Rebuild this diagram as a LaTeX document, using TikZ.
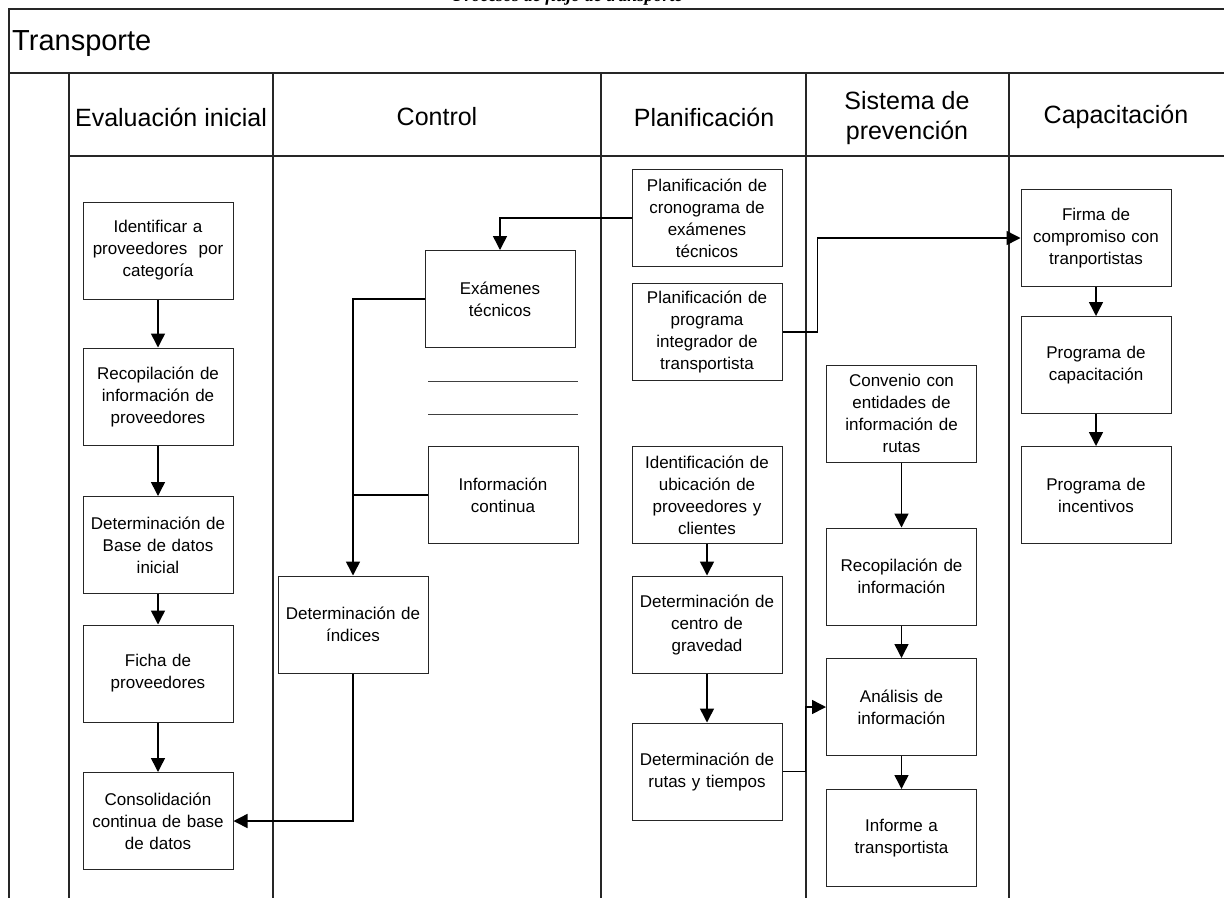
\documentclass[tikz,border=0pt]{standalone}
\usepackage{fontspec}
\setmainfont{Liberation Sans}
\newfontfamily\titlefont{Liberation Serif}
\usetikzlibrary{arrows.meta}

\tikzset{
  lane/.style={line width=1.2pt, draw=black!85},
  thinrule/.style={line width=0.9pt, draw=black!75},
  stepbox/.style={draw=black!85, line width=1pt, fill=white,
    minimum width=150pt, minimum height=97pt, inner sep=2pt,
    text width=146pt, align=center,
    font=\fontsize{17}{22}\selectfont},
  lanehead/.style={font=\fontsize{25}{30}\selectfont, align=center},
  conn/.style={line width=1.5pt, draw=black},
  arr/.style={conn, -{Triangle[length=14pt, width=14pt]}}
}

\begin{document}
\begin{tikzpicture}[x=1pt, y=-1pt]
\useasboundingbox (0,0) rectangle (1224,898);

% caption above the frame, running past the top edge
\node[anchor=base, inner sep=0pt, font=\titlefont\bfseries\itshape\fontsize{18}{20}\selectfont]
  (caption) at (568,1.5) {Procesos de flujo de transporte};

% swimlane frame
\draw[lane] (1224,9) -- (9,9) -- (9,898);
\draw[lane] (9,73) -- (1224,73);
\draw[lane] (69,156) -- (1224,156);
\foreach \x in {69,273,601,806,1009} \draw[lane] (\x,73) -- (\x,898);

\node[anchor=base west, inner sep=0pt, font=\fontsize{29}{34}\selectfont]
  (pool) at (12,50) {Transporte};

\node[lanehead] (h1) at (171,117) {Evaluación inicial};
\node[lanehead] (h2) at (437,117) {Control};
\node[lanehead] (h3) at (704,117) {Planificación};
\node[lanehead] (h4) at (907,118) {Sistema de\\prevención};
\node[lanehead] (h5) at (1116,117) {Capacitación};

% Evaluación inicial
\node[stepbox] (b1) at (158,250.5) {Identificar a\\proveedores~ por\\categoría};
\node[stepbox] (b2) at (158,396.5) {Recopilación de\\información de\\proveedores};
\node[stepbox] (b3) at (158,545) {Determinación de\\Base de datos\\inicial};
\node[stepbox] (b4) at (158,673.5) {Ficha de\\proveedores};
\node[stepbox] (b5) at (158,821) {Consolidación\\continua de base\\de datos};

% Control
\node[stepbox] (ex) at (500,299) {Exámenes\\técnicos};
\node[stepbox] (ic) at (503,495) {Información\\continua};
\node[stepbox] (di) at (353,624.5) {Determinación de\\índices};
\draw[thinrule] (428,381) -- (578,381);
\draw[thinrule] (428,414) -- (578,414);

% Planificación
\node[stepbox] (p1) at (707,218) {Planificación de\\cronograma de\\exámenes\\técnicos};
\node[stepbox] (p2) at (707,332) {Planificación de\\programa\\integrador de\\transportista};
\node[stepbox] (p3) at (707,495) {Identificación de\\ubicación de\\proveedores y\\clientes};
\node[stepbox] (p4) at (707,624.5) {Determinación de\\centro de\\gravedad};
\node[stepbox] (p5) at (707,771.5) {Determinación de\\rutas y tiempos};

% Sistema de prevención
\node[stepbox] (s1) at (901.5,413.5) {Convenio con\\entidades de\\información de\\rutas};
\node[stepbox] (s2) at (901.5,576.5) {Recopilación de\\información};
\node[stepbox] (s3) at (901.5,707) {Análisis de\\información};
\node[stepbox] (s4) at (901.5,838) {Informe a\\transportista};

% Capacitación
\node[stepbox] (c1) at (1096,238) {Firma de\\compromiso con\\tranportistas};
\node[stepbox] (c2) at (1096,365) {Programa de\\capacitación};
\node[stepbox] (c3) at (1096,495) {Programa de\\incentivos};

% flows
\draw[arr] (b1) -- (b2);
\draw[arr] (b2) -- (b3);
\draw[arr] (b3) -- (b4);
\draw[arr] (b4) -- (b5);

\draw[arr] (p1.west) -| (ex.north);
\draw[arr] (ex.west) -| (di.north);
\draw[conn] (ic.west) -- (ic.west -| di.north);
\draw[arr] (di.south) |- (b5.east);

\draw[arr] (p3) -- (p4);
\draw[arr] (p4) -- (p5);
\draw[arr] (p2.east) -- ++(35,0) |- (c1.west);
\draw[arr] (p5.east) -- ++(23,0) |- (s3.west);

\draw[arr] (s1) -- (s2);
\draw[arr] (s2) -- (s3);
\draw[arr] (s3) -- (s4);

\draw[arr] (c1) -- (c2);
\draw[arr] (c2) -- (c3);
\end{tikzpicture}
\end{document}
